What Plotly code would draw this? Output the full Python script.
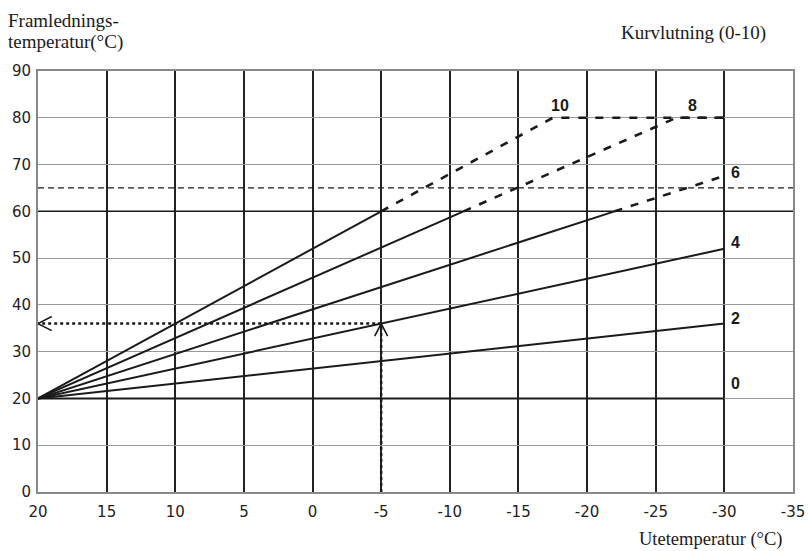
import plotly.graph_objects as go

# ---- data ----
x_ticks = [20, 15, 10, 5, 0, -5, -10, -15, -20, -25, -30, -35]
x_tick_labels = ["20", "15", "10", "5", "0", "-5", "-10", "-15", "-20", "-25", "-30", "-35"]
y_ticks = [0, 10, 20, 30, 40, 50, 60, 70, 80, 90]
y_tick_labels = ["0", "10", "20", "30", "40", "50", "60", "70", "80", "90"]

curve_names = ["0", "2", "4", "6", "8", "10"]
solid_x = [[20, -30], [20, -30], [20, -30], [20, -22], [20, -11], [20, -5]]
solid_y = [[20, 20], [20, 36], [20, 52], [20, 60], [20, 60], [20, 60]]
dashed_x = [None, None, None, [-22, -30], [-11, -26.5, -30], [-5, -17.5, -30]]
dashed_y = [None, None, None, [60, 67.6], [60, 80, 80], [60, 80, 80]]
label_x = [-30.35, -30.35, -30.35, -30.35, -27.2, -17.2]
label_y = [23.3, 37.0, 53.4, 68.4, 82.7, 82.7]

limit_temp = 65
solid_limit = 60
example_outdoor = -5
example_flow = 36

fig = go.Figure()

ink = "#1a1a1a"

# horizontal limit lines
fig.add_trace(go.Scatter(x=[20, -35], y=[limit_temp, limit_temp], mode="lines",
                         line=dict(color=ink, width=1.2, dash="6px,4px"), hoverinfo="skip"))
fig.add_trace(go.Scatter(x=[20, -35], y=[solid_limit, solid_limit], mode="lines",
                         line=dict(color=ink, width=1.5), hoverinfo="skip"))

for i, name in enumerate(curve_names):
    fig.add_trace(go.Scatter(x=solid_x[i], y=solid_y[i], mode="lines",
                             line=dict(color=ink, width=2), hoverinfo="skip"))
    if dashed_x[i] is not None:
        fig.add_trace(go.Scatter(x=dashed_x[i], y=dashed_y[i], mode="lines",
                                 line=dict(color=ink, width=2.6, dash="8px,9px"),
                                 hoverinfo="skip"))
    fig.add_annotation(x=label_x[i], y=label_y[i], text="<b>%s</b>" % name, showarrow=False,
                       xanchor="left", yanchor="middle",
                       font=dict(family="Liberation Sans", size=16, color=ink))

# example dotted reading lines
fig.add_trace(go.Scatter(x=[example_outdoor, example_outdoor], y=[0, example_flow - 0.3],
                         mode="lines", line=dict(color=ink, width=2.5, dash="dot"),
                         hoverinfo="skip"))
fig.add_trace(go.Scatter(x=[example_outdoor, 20], y=[example_flow, example_flow],
                         mode="lines", line=dict(color=ink, width=2.5, dash="dot"),
                         hoverinfo="skip"))
# chevron arrowheads derived from the example point
fig.add_trace(go.Scatter(x=[example_outdoor + 0.47, example_outdoor, example_outdoor - 0.47],
                         y=[example_flow - 2.7, example_flow, example_flow - 2.7],
                         mode="lines", line=dict(color=ink, width=1.6), hoverinfo="skip"))
fig.add_trace(go.Scatter(x=[20 - 1.0, 20, 20 - 1.0],
                         y=[example_flow + 1.5, example_flow, example_flow - 1.5],
                         mode="lines", line=dict(color=ink, width=1.6), hoverinfo="skip"))

serif = dict(family="Liberation Serif", size=19, color=ink)
fig.add_annotation(xref="paper", yref="paper", x=-0.042, y=1.121, text="Framlednings-",
                   showarrow=False, xanchor="left", yanchor="middle", font=serif)
fig.add_annotation(xref="paper", yref="paper", x=-0.042, y=1.069, text="temperatur(°C)",
                   showarrow=False, xanchor="left", yanchor="middle", font=serif)
fig.add_annotation(xref="paper", yref="paper", x=0.770, y=1.090, text="Kurvlutning (0-10)",
                   showarrow=False, xanchor="left", yanchor="middle", font=serif)
fig.add_annotation(xref="paper", yref="paper", x=0.990, y=-0.112, text="Utetemperatur (°C)",
                   showarrow=False, xanchor="right", yanchor="middle",
                   font=dict(family="Liberation Serif", size=18.5, color=ink))

tickfont = dict(family="DejaVu Sans", size=15, color="#222")
fig.update_layout(
    width=808, height=551,
    margin=dict(l=38, r=15, t=71, b=59),
    paper_bgcolor="white", plot_bgcolor="white",
    showlegend=False,
    xaxis=dict(range=[20, -35], tickvals=x_ticks, ticktext=x_tick_labels,
               showgrid=True, gridcolor="#222", gridwidth=1.6, zeroline=False,
               showline=True, linecolor="#888", linewidth=2, mirror=True,
               ticks="", ticklen=0, ticklabelstandoff=5, automargin=False,
               tickfont=tickfont),
    yaxis=dict(range=[0, 90], tickvals=y_ticks, ticktext=y_tick_labels,
               showgrid=True, gridcolor="#999", gridwidth=1.4, zeroline=False,
               showline=True, linecolor="#888", linewidth=2, mirror=True,
               ticks="", ticklen=0, ticklabelstandoff=2, automargin=False,
               tickfont=tickfont),
)

fig.write_html("out.html", config={"displayModeBar": False},
               post_script="document.body.style.margin='0';document.body.style.overflow='hidden';")
